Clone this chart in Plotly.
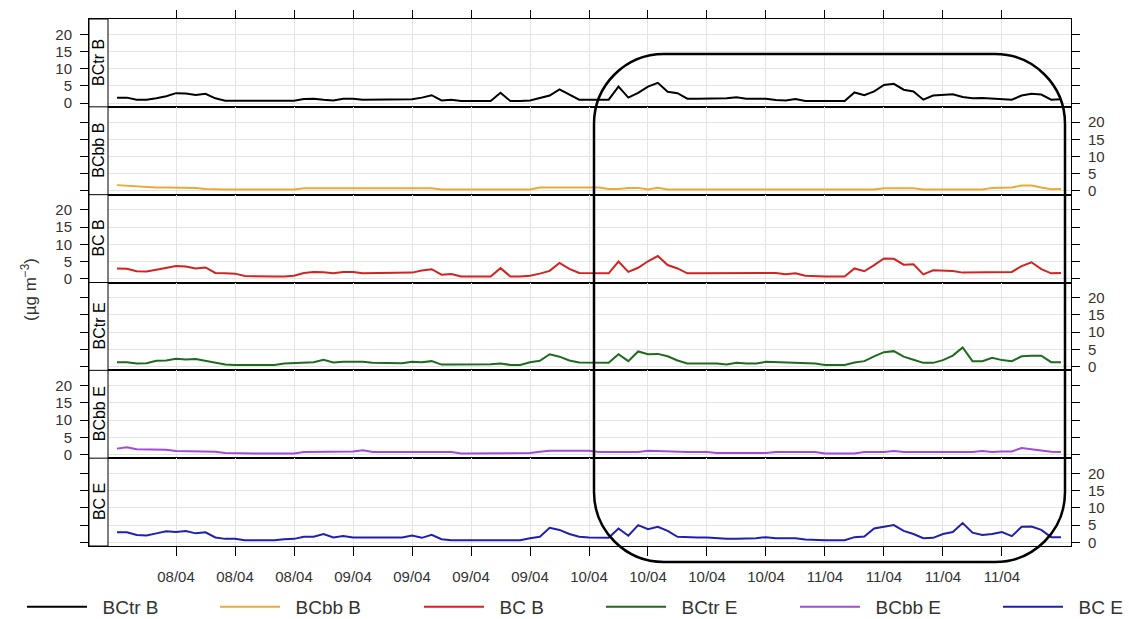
import pandas as pd
import plotly.graph_objects as go
from plotly.subplots import make_subplots

# ---- data: hourly black-carbon concentrations (µg m-3), 08/04 00:00 -> 12/04 00:00
start_time = "2015-04-08 00:00"
n_hours = 97

series_names = ["BCtr B", "BCbb B", "BC B", "BCtr E", "BCbb E", "BC E"]
series_colors = ["#000000", "#EBA935", "#D32222", "#1E6A1E", "#A24BD6", "#2020AE"]

bctr_b = [1.6, 1.6, 1.0, 1.0, 1.4, 2.0, 2.9, 2.8, 2.4, 2.7,
          1.4, 0.7, 0.7, 0.7, 0.7, 0.7, 0.7, 0.7, 0.7, 1.2,
          1.3, 1.0, 0.8, 1.3, 1.3, 1.0, 1.0, 1.0, 1.0, 1.0,
          1.1, 1.6, 2.3, 0.8, 1.0, 0.6, 0.6, 0.6, 0.6, 3.0,
          0.6, 0.6, 0.8, 1.5, 2.2, 4.0, 2.4, 1.0, 1.0, 1.0,
          1.0, 4.8, 1.6, 3.0, 4.8, 5.9, 3.3, 2.9, 1.3, 1.3,
          1.3, 1.3, 1.4, 1.7, 1.3, 1.3, 1.3, 0.9, 0.8, 1.2,
          0.6, 0.6, 0.6, 0.6, 0.6, 3.1, 2.3, 3.4, 5.3, 5.6,
          3.9, 3.4, 1.0, 2.2, 2.3, 2.6, 1.8, 1.4, 1.5, 1.4,
          1.3, 1.0, 2.2, 2.7, 2.5, 1.0, 1.1]

bcbb_b = [1.7, 1.5, 1.2, 1.1, 1.0, 1.0, 1.0, 1.0, 0.9, 0.6,
          0.4, 0.4, 0.4, 0.4, 0.4, 0.4, 0.4, 0.4, 0.4, 0.8,
          0.8, 0.8, 0.8, 0.8, 0.8, 0.8, 0.8, 0.8, 0.8, 0.8,
          0.8, 0.8, 0.8, 0.4, 0.4, 0.4, 0.4, 0.4, 0.4, 0.4,
          0.4, 0.4, 0.4, 1.0, 1.0, 1.0, 1.0, 1.0, 1.0, 1.0,
          0.6, 0.6, 0.9, 0.9, 0.4, 0.9, 0.4, 0.4, 0.4, 0.4,
          0.4, 0.4, 0.4, 0.4, 0.4, 0.4, 0.4, 0.4, 0.4, 0.4,
          0.4, 0.4, 0.4, 0.4, 0.4, 0.4, 0.4, 0.4, 0.8, 0.8,
          0.8, 0.8, 0.4, 0.4, 0.4, 0.4, 0.4, 0.4, 0.4, 0.9,
          0.9, 1.0, 1.6, 1.6, 1.0, 0.5, 0.6]

bc_b = [3.0, 2.9, 2.2, 2.1, 2.6, 3.1, 3.7, 3.6, 3.0, 3.3,
        1.7, 1.6, 1.5, 0.8, 0.7, 0.7, 0.7, 0.7, 0.9, 1.7,
        2.0, 1.9, 1.6, 2.0, 2.0, 1.6, 1.6, 1.6, 1.6, 1.6,
        1.8, 2.4, 2.8, 1.2, 1.4, 0.7, 0.7, 0.7, 0.7, 3.1,
        0.7, 0.7, 0.9, 1.5, 2.3, 4.6, 2.9, 1.7, 1.6, 1.6,
        1.6, 5.0, 2.0, 3.2, 5.1, 6.6, 4.0, 3.0, 1.6, 1.6,
        1.6, 1.6, 1.8, 1.6, 1.6, 1.7, 1.7, 1.7, 1.3, 1.6,
        0.9, 0.7, 0.7, 0.7, 0.7, 3.0, 2.2, 4.0, 5.9, 5.8,
        4.1, 4.2, 1.3, 2.5, 2.5, 2.3, 1.8, 1.8, 1.8, 1.8,
        1.8, 2.0, 3.7, 4.8, 2.8, 1.6, 1.7]

bctr_e = [1.3, 1.3, 0.9, 1.0, 1.7, 1.8, 2.3, 2.1, 2.2, 1.7,
          1.1, 0.6, 0.5, 0.5, 0.5, 0.5, 0.5, 0.9, 1.0, 1.3,
          1.3, 2.0, 1.2, 1.4, 1.4, 1.4, 1.1, 1.0, 1.0, 1.0,
          1.4, 1.3, 1.6, 0.6, 0.6, 0.6, 0.6, 0.6, 0.7, 0.9,
          0.5, 0.5, 1.3, 1.7, 3.6, 2.9, 1.8, 1.2, 1.1, 1.1,
          1.1, 3.6, 1.6, 4.4, 3.6, 3.7, 3.0, 1.8, 0.9, 0.9,
          0.9, 0.9, 0.6, 1.1, 0.9, 0.9, 1.4, 1.3, 1.1, 1.2,
          0.9, 0.9, 0.5, 0.5, 0.5, 1.2, 1.6, 3.0, 4.2, 4.5,
          2.9, 2.0, 1.1, 1.1, 1.9, 3.2, 5.6, 1.6, 1.6, 2.6,
          1.9, 1.6, 3.0, 3.2, 3.2, 1.3, 1.3]

bcbb_e = [1.7, 2.1, 1.5, 1.4, 1.4, 1.4, 1.0, 1.0, 1.0, 1.0,
          0.8, 0.4, 0.3, 0.3, 0.3, 0.3, 0.3, 0.3, 0.3, 0.7,
          0.7, 0.7, 0.9, 0.9, 0.9, 1.2, 0.7, 0.7, 0.7, 0.7,
          0.7, 0.7, 0.7, 0.7, 0.7, 0.3, 0.3, 0.3, 0.3, 0.3,
          0.3, 0.3, 0.4, 0.8, 1.1, 1.1, 1.1, 1.1, 1.1, 0.7,
          0.7, 0.7, 0.7, 0.7, 1.1, 1.0, 0.7, 0.7, 0.7, 0.7,
          0.7, 0.4, 0.4, 0.4, 0.6, 0.4, 0.4, 0.7, 0.7, 0.7,
          0.7, 0.7, 0.3, 0.3, 0.3, 0.3, 0.7, 0.7, 0.7, 1.0,
          0.7, 0.7, 0.7, 0.7, 0.7, 0.7, 0.7, 0.7, 1.0, 0.7,
          0.9, 0.9, 1.9, 1.5, 1.1, 0.8, 0.7]

bc_e = [2.9, 2.9, 2.1, 2.0, 2.6, 3.2, 3.0, 3.3, 2.6, 2.9,
        1.4, 1.0, 1.0, 0.6, 0.6, 0.6, 0.6, 0.9, 1.0, 1.6,
        1.6, 2.4, 1.4, 1.8, 1.4, 1.4, 1.4, 1.4, 1.4, 1.4,
        2.0, 1.3, 2.2, 0.9, 0.6, 0.6, 0.6, 0.6, 0.6, 0.6,
        0.6, 0.6, 1.2, 1.6, 4.2, 3.6, 2.4, 1.6, 1.4, 1.3,
        1.3, 4.0, 1.9, 5.0, 3.8, 4.5, 3.3, 1.6, 1.4, 1.4,
        1.4, 1.1, 1.0, 1.0, 1.0, 1.2, 1.5, 1.2, 1.2, 1.2,
        0.8, 0.6, 0.6, 0.6, 0.6, 1.5, 1.7, 4.0, 4.6, 5.0,
        3.3, 2.4, 1.2, 1.3, 2.4, 3.0, 5.6, 2.8, 2.1, 2.4,
        3.0, 1.8, 4.5, 4.6, 3.6, 1.5, 1.5]

series_values = [bctr_b, bcbb_b, bc_b, bctr_e, bcbb_e, bc_e]

y_ticks = [0, 5, 10, 15, 20]
y_range = [-1.07, 24.43]
x_tick_hours = [6 + 6 * k for k in range(15)]   # every 6 h from 08/04 06:00
x_range_hours = [-2.85, 97.02]

# ---- geometry (pixels)
W, H = 1129, 619
M_L, M_R, M_T, M_B = 89, 58, 19, 73
PW, PH = W - M_L - M_R, H - M_T - M_B
STRIP_W = 19
FONT = "Liberation Sans, Arial, sans-serif"
TXT = "#333333"
legend_left_px = [22, 215, 419, 601, 795, 998]   # left edge of each key entry
legend_mid_px = 607


def px_x(p):
    return (p - M_L) / PW


def px_y(p):
    return (H - M_B - p) / PH


t0 = pd.Timestamp(start_time)
times = pd.date_range(t0, periods=n_hours, freq="h")
fmt = "%Y-%m-%d %H:%M:%S"
x_range = [(t0 + pd.Timedelta(hours=h)).strftime(fmt) for h in x_range_hours]
x_ticks = [(t0 + pd.Timedelta(hours=h)).strftime(fmt) for h in x_tick_hours]

n = len(series_names)
fig = make_subplots(rows=n, cols=1, shared_xaxes=True, vertical_spacing=0)

legend_ids = ["legend"] + [f"legend{i + 1}" for i in range(1, n)]
for i, (name, color, vals) in enumerate(zip(series_names, series_colors, series_values)):
    fig.add_trace(
        go.Scatter(x=times, y=vals, mode="lines", name="\u00a0\u00a0" + name,
                   line=dict(color=color, width=2), showlegend=True,
                   legend=legend_ids[i]),
        row=i + 1, col=1)

grid_col = "#e4e4e4"
for i in range(n):
    r = i + 1
    fig.update_yaxes(
        row=r, col=1, range=y_range, tickvals=y_ticks, ticks="outside", ticklen=8,
        tickcolor="black", tickwidth=1, showline=True, linecolor="black", linewidth=1,
        mirror="ticks", side="left" if i % 2 == 0 else "right",
        showticklabels=True, showgrid=True, gridcolor=grid_col, gridwidth=1,
        zeroline=False, ticklabelstandoff=5,
        tickfont=dict(family=FONT, size=15, color=TXT))
    xa = dict(range=x_range, tickvals=x_ticks, showgrid=True, gridcolor=grid_col,
              gridwidth=1, showline=True, linecolor="black", linewidth=1, mirror=True,
              zeroline=False, ticks="", tickcolor="black")
    if r == 1:
        xa.update(side="top", ticks="outside", ticklen=8, showticklabels=False)
    if r == n:
        xa.update(ticks="outside", ticklen=9, showticklabels=True, tickformat="%d/%m",
                  ticklabelstandoff=8, tickfont=dict(family=FONT, size=15, color=TXT))
    fig.update_xaxes(row=r, col=1, **xa)

shapes = []
annotations = []

# strip column on the left of each panel
shapes.append(dict(type="rect", xref="paper", yref="paper", x0=0, x1=px_x(M_L + STRIP_W),
                   y0=0, y1=1, fillcolor="white", line=dict(color="black", width=1),
                   layer="above"))
for i in range(1, n):
    shapes.append(dict(type="line", xref="paper", yref="paper", x0=0, x1=px_x(M_L + STRIP_W),
                       y0=i / n, y1=i / n, line=dict(color="black", width=1), layer="above"))
for i, name in enumerate(series_names):
    annotations.append(dict(text=name, xref="paper", yref="paper",
                            x=px_x(M_L + STRIP_W / 2 + 0.5), y=1 - (i + 0.5) / n,
                            textangle=-90, showarrow=False, xanchor="center", yanchor="middle",
                            font=dict(family=FONT, size=16, color="black")))

# y-axis title
annotations.append(dict(text="(\u00b5g m<sup>\u22123</sup>)", xref="paper", yref="paper",
                        x=px_x(29), y=px_y(290), textangle=-90, showarrow=False,
                        xanchor="center", yanchor="middle",
                        font=dict(family=FONT, size=17, color=TXT)))

# rounded highlight frame
L, R, T, B, rad = 594, 1065, 54, 562, 70
k = 0.5523 * rad


def P(x, y):
    return f"{px_x(x):.5f},{px_y(y):.5f}"


path = (f"M{P(L + rad, T)} L{P(R - rad, T)} "
        f"C{P(R - rad + k, T)} {P(R, T + rad - k)} {P(R, T + rad)} "
        f"L{P(R, B - rad)} "
        f"C{P(R, B - rad + k)} {P(R - rad + k, B)} {P(R - rad, B)} "
        f"L{P(L + rad, B)} "
        f"C{P(L + rad - k, B)} {P(L, B - rad + k)} {P(L, B - rad)} "
        f"L{P(L, T + rad)} "
        f"C{P(L, T + rad - k)} {P(L + rad - k, T)} {P(L + rad, T)} Z")
shapes.append(dict(type="path", xref="paper", yref="paper", path=path,
                   line=dict(color="black", width=2.5), layer="above"))

layout_kw = dict(
    width=W, height=H,
    margin=dict(l=M_L, r=M_R, t=M_T, b=M_B, autoexpand=False),
    paper_bgcolor="white", plot_bgcolor="white",
    font=dict(family=FONT, color=TXT),
    shapes=shapes, annotations=annotations,
)
for lid, lx in zip(legend_ids, legend_left_px):
    layout_kw[lid] = dict(orientation="h", x=px_x(lx), xanchor="left",
                          y=px_y(legend_mid_px), yanchor="middle",
                          font=dict(family=FONT, size=19, color=TXT),
                          itemwidth=60, bgcolor="rgba(0,0,0,0)", borderwidth=0)
fig.update_layout(**layout_kw)

fig.write_html("out.html")
